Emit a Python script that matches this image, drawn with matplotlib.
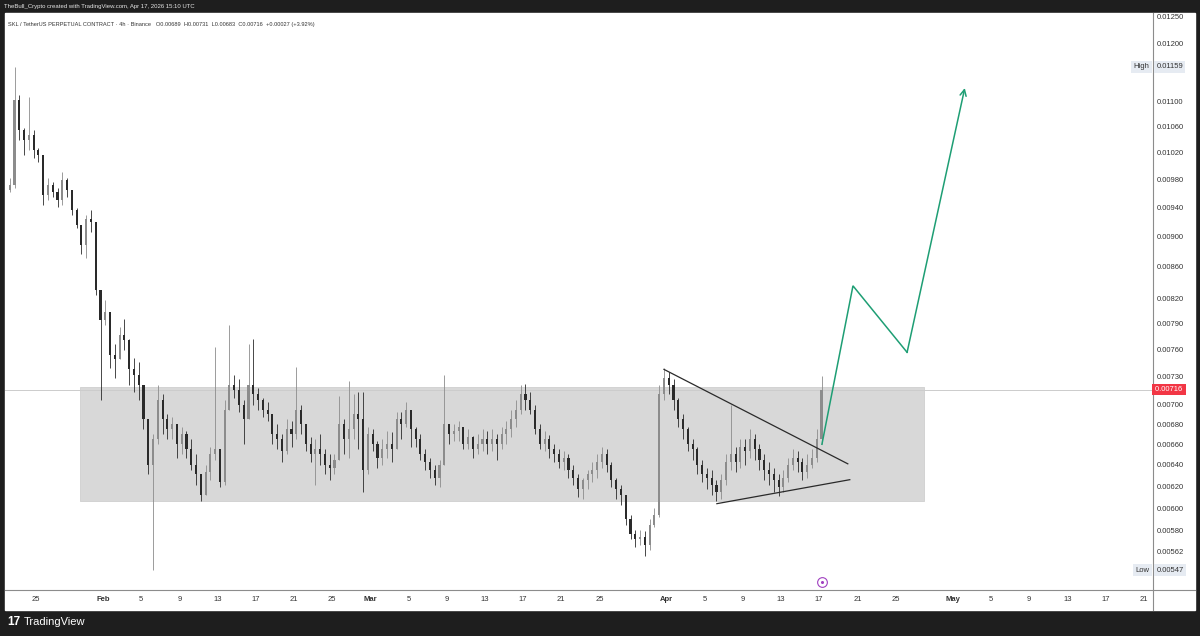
import numpy as np
import matplotlib.pyplot as plt
import matplotlib.dates as mdates
from matplotlib.patches import Rectangle
from matplotlib.lines import Line2D
from matplotlib.ticker import FixedLocator, NullLocator, FuncFormatter
from datetime import datetime

plt.rcParams['font.family'] = ['Liberation Sans', 'DejaVu Sans']

# 12h candles, starting Jan 22 2026 00:00 UTC
start = datetime(2026, 1, 22)
first_open = 0.00965
closes = [
    0.00972, 0.01103, 0.01055, 0.01039, 0.01047, 0.01024, 0.01016, 0.00958, 0.00972, 0.00962,
    0.00950, 0.00979, 0.00965, 0.00936, 0.00916, 0.00889, 0.00923, 0.00920, 0.00831, 0.00795,
    0.00804, 0.00754, 0.00749, 0.00777, 0.00771, 0.00738, 0.00732, 0.00721, 0.00685, 0.00640,
    0.00665, 0.00705, 0.00685, 0.00675, 0.00680, 0.00660, 0.00670, 0.00655, 0.00640, 0.00631,
    0.00612, 0.00633, 0.00650, 0.00655, 0.00624, 0.00695, 0.00721, 0.00716, 0.00700, 0.00685,
    0.00721, 0.00711, 0.00705, 0.00695, 0.00690, 0.00670, 0.00665, 0.00653, 0.00675, 0.00670,
    0.00695, 0.00680, 0.00660, 0.00650, 0.00655, 0.00650, 0.00640, 0.00637, 0.00645, 0.00680,
    0.00665, 0.00675, 0.00690, 0.00685, 0.00635, 0.00670, 0.00660, 0.00647, 0.00655, 0.00660,
    0.00655, 0.00685, 0.00680, 0.00695, 0.00675, 0.00665, 0.00650, 0.00643, 0.00635, 0.00628,
    0.00640, 0.00680, 0.00670, 0.00673, 0.00677, 0.00660, 0.00667, 0.00655, 0.00660, 0.00665,
    0.00660, 0.00665, 0.00660, 0.00670, 0.00675, 0.00685, 0.00695, 0.00711, 0.00705, 0.00695,
    0.00675, 0.00660, 0.00665, 0.00655, 0.00650, 0.00643, 0.00647, 0.00635, 0.00628, 0.00617,
    0.00626, 0.00631, 0.00635, 0.00643, 0.00650, 0.00640, 0.00626, 0.00617, 0.00612, 0.00590,
    0.00577, 0.00573, 0.00575, 0.00568, 0.00585, 0.00594, 0.00711, 0.00729, 0.00721, 0.00705,
    0.00685, 0.00675, 0.00660, 0.00655, 0.00640, 0.00631, 0.00628, 0.00621, 0.00615, 0.00626,
    0.00643, 0.00650, 0.00643, 0.00657, 0.00653, 0.00665, 0.00655, 0.00645, 0.00635, 0.00631,
    0.00626, 0.00619, 0.00628, 0.00640, 0.00647, 0.00643, 0.00633, 0.00640, 0.00647, 0.00665,
    0.00716,
]
highs = [
    0.00982, 0.01159, 0.01112, 0.01058, 0.01108, 0.01055, 0.01027, 0.01016, 0.00982, 0.00976,
    0.00968, 0.00991, 0.00982, 0.00962, 0.00939, 0.00916, 0.00929, 0.00936, 0.00911, 0.00831,
    0.00819, 0.00801, 0.00766, 0.00786, 0.00796, 0.00772, 0.00751, 0.00746, 0.00711, 0.00680,
    0.00670, 0.00721, 0.00711, 0.00690, 0.00687, 0.00677, 0.00677, 0.00673, 0.00665, 0.00650,
    0.00631, 0.00640, 0.00657, 0.00763, 0.00650, 0.00705, 0.00789, 0.00732, 0.00727, 0.00705,
    0.00766, 0.00772, 0.00718, 0.00707, 0.00703, 0.00690, 0.00680, 0.00670, 0.00685, 0.00683,
    0.00741, 0.00700, 0.00680, 0.00667, 0.00665, 0.00670, 0.00655, 0.00650, 0.00650, 0.00709,
    0.00685, 0.00725, 0.00711, 0.00713, 0.00714, 0.00677, 0.00675, 0.00663, 0.00665, 0.00673,
    0.00672, 0.00693, 0.00693, 0.00703, 0.00685, 0.00677, 0.00670, 0.00655, 0.00647, 0.00640,
    0.00645, 0.00732, 0.00680, 0.00680, 0.00683, 0.00675, 0.00675, 0.00668, 0.00670, 0.00675,
    0.00673, 0.00675, 0.00670, 0.00677, 0.00683, 0.00695, 0.00705, 0.00721, 0.00722, 0.00714,
    0.00700, 0.00680, 0.00673, 0.00669, 0.00660, 0.00655, 0.00653, 0.00650, 0.00640, 0.00631,
    0.00628, 0.00635, 0.00643, 0.00650, 0.00657, 0.00655, 0.00643, 0.00628, 0.00621, 0.00612,
    0.00594, 0.00581, 0.00581, 0.00580, 0.00590, 0.00600, 0.00721, 0.00740, 0.00735, 0.00727,
    0.00707, 0.00690, 0.00677, 0.00665, 0.00657, 0.00645, 0.00637, 0.00635, 0.00626, 0.00631,
    0.00650, 0.00700, 0.00657, 0.00665, 0.00665, 0.00675, 0.00670, 0.00660, 0.00650, 0.00643,
    0.00637, 0.00631, 0.00635, 0.00647, 0.00655, 0.00653, 0.00647, 0.00650, 0.00655, 0.00675,
    0.00731,
]
lows = [
    0.00962, 0.00968, 0.01039, 0.01016, 0.01024, 0.01012, 0.01006, 0.00943, 0.00950, 0.00954,
    0.00940, 0.00943, 0.00954, 0.00929, 0.00911, 0.00876, 0.00871, 0.00906, 0.00825, 0.00705,
    0.00789, 0.00740, 0.00729, 0.00757, 0.00760, 0.00721, 0.00713, 0.00705, 0.00675, 0.00631,
    0.00547, 0.00660, 0.00670, 0.00665, 0.00665, 0.00647, 0.00650, 0.00647, 0.00635, 0.00621,
    0.00606, 0.00617, 0.00626, 0.00645, 0.00619, 0.00621, 0.00700, 0.00707, 0.00693, 0.00660,
    0.00685, 0.00700, 0.00695, 0.00687, 0.00683, 0.00660, 0.00655, 0.00643, 0.00650, 0.00657,
    0.00665, 0.00670, 0.00653, 0.00643, 0.00621, 0.00640, 0.00631, 0.00626, 0.00631, 0.00645,
    0.00650, 0.00647, 0.00665, 0.00655, 0.00615, 0.00631, 0.00653, 0.00637, 0.00640, 0.00647,
    0.00643, 0.00657, 0.00665, 0.00677, 0.00657, 0.00657, 0.00645, 0.00635, 0.00628, 0.00621,
    0.00619, 0.00640, 0.00660, 0.00663, 0.00663, 0.00655, 0.00655, 0.00647, 0.00650, 0.00653,
    0.00650, 0.00653, 0.00645, 0.00655, 0.00660, 0.00667, 0.00677, 0.00690, 0.00695, 0.00690,
    0.00670, 0.00655, 0.00653, 0.00647, 0.00643, 0.00637, 0.00635, 0.00628, 0.00621, 0.00610,
    0.00608, 0.00617, 0.00624, 0.00628, 0.00637, 0.00633, 0.00619, 0.00608, 0.00603, 0.00585,
    0.00573, 0.00566, 0.00568, 0.00559, 0.00564, 0.00583, 0.00592, 0.00705, 0.00711, 0.00695,
    0.00677, 0.00665, 0.00653, 0.00645, 0.00631, 0.00624, 0.00617, 0.00612, 0.00606, 0.00608,
    0.00621, 0.00635, 0.00633, 0.00637, 0.00640, 0.00647, 0.00645, 0.00635, 0.00626, 0.00621,
    0.00615, 0.00611, 0.00615, 0.00624, 0.00635, 0.00633, 0.00626, 0.00628, 0.00637, 0.00643,
    0.00660,
]

last_price = 0.00716
high_price = 0.01159
low_price = 0.00547

# range box and triangle
zone_top, zone_bottom = 0.00719, 0.00606
zone_start, zone_end = "2026-01-29 14:00", "2026-04-27 23:00"
upper_dates, upper_prices = ["2026-03-31 18:00", "2026-04-20 00:00"], [0.00738, 0.00641]
lower_dates, lower_prices = ["2026-04-06 07:00", "2026-04-20 05:00"], [0.00604, 0.00626]

# projected path (green arrow)
path_dates = ["2026-04-17 07:00", "2026-04-20 13:00", "2026-04-26 05:00", "2026-05-02 06:00"]
path_prices = [0.00660, 0.00836, 0.00757, 0.01123]

price_ticks = [0.01250, 0.01200, 0.01100, 0.01060, 0.01020, 0.00980, 0.00940, 0.00900,
               0.00860, 0.00820, 0.00790, 0.00760, 0.00730, 0.00700, 0.00680, 0.00660,
               0.00640, 0.00620, 0.00600, 0.00580, 0.00562]
date_ticks = ["2026-01-25", "2026-02-01", "2026-02-05", "2026-02-09", "2026-02-13", "2026-02-17",
              "2026-02-21", "2026-02-25", "2026-03-01", "2026-03-05", "2026-03-09", "2026-03-13",
              "2026-03-17", "2026-03-21", "2026-03-25", "2026-04-01", "2026-04-05", "2026-04-09",
              "2026-04-13", "2026-04-17", "2026-04-21", "2026-04-25", "2026-05-01", "2026-05-05",
              "2026-05-09", "2026-05-13", "2026-05-17", "2026-05-21"]
date_labels = ["25", "Feb", "5", "9", "13", "17", "21", "25", "Mar", "5", "9", "13", "17", "21",
               "25", "Apr", "5", "9", "13", "17", "21", "25", "May", "5", "9", "13", "17", "21"]

W, H = 1200, 636
def fx(px):
    return px / W
def fy(py):
    return 1 - py / H

fig = plt.figure(figsize=(12, 6.36), dpi=100, facecolor='#1e1e1e')
fig.patches.append(Rectangle((fx(5), fy(610)), fx(1190), (610 - 13) / H,
                             transform=fig.transFigure, color='white', zorder=-5))
ax = fig.add_axes([fx(5), fy(590), fx(1148), (590 - 13) / H])
ax.set_facecolor('white')
ax.set_zorder(2)

# candles
closes = np.array(closes)
opens = np.concatenate([[first_open], closes[:-1]])
highs = np.maximum(np.array(highs), np.maximum(opens, closes))
lows = np.minimum(np.array(lows), np.minimum(opens, closes))
x = mdates.date2num(start) + 0.5 * np.arange(len(closes)) + 0.25
up = closes >= opens
colors = np.where(up, '#8c8c8c', '#2a2a2a')
ax.vlines(x, lows, highs, colors=colors, lw=0.6, zorder=3)
ax.bar(x, np.maximum(np.abs(closes - opens), 0.000008), bottom=np.minimum(opens, closes),
       width=0.22, color=colors, zorder=3)

# zone box
zx0, zx1 = mdates.datestr2num(zone_start), mdates.datestr2num(zone_end)
ax.fill_between([zx0, zx1], zone_bottom, zone_top, color='#d8d8d8', ec='#cfcfcf', lw=0.6, zorder=1)

# last price line
ax.axhline(last_price, color='#cccccc', lw=0.7, zorder=1)

# triangle
ax.plot(mdates.datestr2num(upper_dates), upper_prices, color='#2a2a2a', lw=0.9, zorder=4)
ax.plot(mdates.datestr2num(lower_dates), lower_prices, color='#2a2a2a', lw=0.9, zorder=4)

# projection
green = '#1e9e74'
px = mdates.datestr2num(path_dates)
ax.plot(px[:3], path_prices[:3], color=green, lw=1.1, zorder=5, solid_joinstyle='miter')
ax.annotate('', xy=(px[3], path_prices[3]), xytext=(px[2], path_prices[2]),
            arrowprops=dict(arrowstyle='->', color=green, lw=1.1, mutation_scale=11,
                            shrinkA=0, shrinkB=0), zorder=5)

# event marker near the time axis
ev = mdates.datestr2num("2026-04-17 07:00")
ax.plot([ev], [0.014], marker='o', ms=7, mfc='white', mec='#a040c0', mew=0.8,
        transform=ax.get_xaxis_transform(), clip_on=False, zorder=6)
ax.plot([ev], [0.014], marker='o', ms=2.2, mfc='#a040c0', mec='none',
        transform=ax.get_xaxis_transform(), clip_on=False, zorder=7)

# axes
ax.set_xlim(mdates.datestr2num("2026-01-21 18:00"), mdates.datestr2num("2026-05-21 23:00"))
ax.set_yscale('log')
ax.set_ylim(0.00531, 0.01256)
ax.yaxis.set_major_locator(FixedLocator(price_ticks))
ax.yaxis.set_minor_locator(NullLocator())
ax.yaxis.set_major_formatter(FuncFormatter(lambda v, p: f"{v:.5f}"))
ax.yaxis.tick_right()
ax.tick_params(axis='y', length=0, pad=3, labelsize=5.5, labelcolor='#333333')

ax.set_xticks(mdates.datestr2num(date_ticks))
ax.set_xticklabels(date_labels)
ax.xaxis.set_minor_locator(NullLocator())
ax.tick_params(axis='x', length=0, pad=4, labelsize=5.5, labelcolor='#333333')
for t in ax.get_xticklabels():
    if t.get_text() in ("Feb", "Mar", "Apr", "May"):
        t.set_fontweight('bold')

for s in ('top', 'left'):
    ax.spines[s].set_visible(False)
for s in ('right', 'bottom'):
    ax.spines[s].set_color('#8c8c8c')
    ax.spines[s].set_linewidth(0.8)
fig.add_artist(Line2D([fx(1153), fx(1195)], [fy(590), fy(590)], color='#8c8c8c', lw=0.8))
fig.add_artist(Line2D([fx(1153), fx(1153)], [fy(590), fy(610)], color='#8c8c8c', lw=0.8))

# price scale labels
ytr = ax.get_yaxis_transform()
ax.text(1.0015, last_price, "0.00716 ", transform=ytr, fontsize=5.5, color='white',
        va='center', ha='left', clip_on=False, zorder=8,
        bbox=dict(boxstyle='square,pad=0.3', fc='#f23645', ec='none'))
for val, name in ((high_price, "High"), (low_price, "Low")):
    ax.text(1.003, val, f"{val:.5f}", transform=ytr, fontsize=5.5, color='#333333',
            va='center', ha='left', clip_on=False, zorder=8,
            bbox=dict(boxstyle='square,pad=0.3', fc='#e6ebf2', ec='none'))
    ax.text(0.997, val, name, transform=ytr, fontsize=5.5, color='#333333',
            va='center', ha='right', clip_on=False, zorder=8,
            bbox=dict(boxstyle='square,pad=0.3', fc='#e6ebf2', ec='none'))

# header and legend
fig.text(fx(4), fy(6.5), "TheBull_Crypto created with TradingView.com, Apr 17, 2026 15:10 UTC",
         color='#e6e6e6', fontsize=4.3, va='center', ha='left')
ax.text(0.003, 0.985,
        "SKL / TetherUS PERPETUAL CONTRACT · 4h · Binance   O0.00689  H0.00731  L0.00683  C0.00716  +0.00027 (+3.92%)",
        transform=ax.transAxes, fontsize=4.1, color='#333333', va='top', ha='left')

# footer logo
fig.text(fx(7), fy(622), "17", color='white', fontsize=8.5, fontweight='heavy', va='center', ha='left')
fig.text(fx(24), fy(622), "TradingView", color='white', fontsize=8, va='center', ha='left')

fig.savefig("out.png", dpi=100, facecolor=fig.get_facecolor())
